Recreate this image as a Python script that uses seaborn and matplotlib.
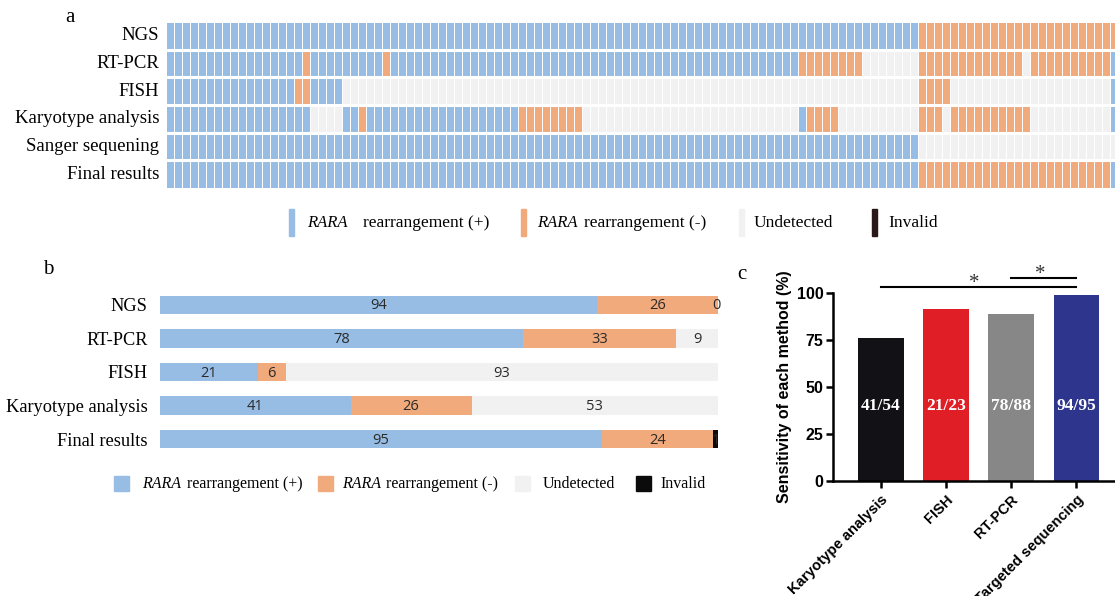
import numpy as np
import pandas as pd
import matplotlib
matplotlib.use("Agg")
import matplotlib.pyplot as plt
from matplotlib.colors import ListedColormap
from matplotlib.patches import Rectangle
import seaborn as sns

W, H = 1115, 596
SERIF = "Liberation Serif"
SANS = "Liberation Sans"

c_pos = "#97bde4"
c_neg = "#f0aa7b"
c_und = "#f1f1f1"
c_inv = "#2a1818"

# ---- panel a: calls per sample, run-length coded (code, count)
# 0 undetected, 1 positive, 2 negative, 3 invalid
a_rows = ["NGS", "RT-PCR", "FISH", "Karyotype analysis", "Sanger sequening", "Final results"]
ngs_runs = [(1, 94), (2, 26)]
rtpcr_runs = [(1, 17), (2, 1), (1, 9), (2, 1), (1, 51), (2, 8), (0, 7), (2, 13),
              (0, 1), (2, 10), (1, 1), (0, 1)]
fish_runs = [(1, 16), (2, 2), (1, 4), (0, 72), (2, 4), (0, 20), (1, 1), (0, 1)]
karyo_runs = [(1, 18), (0, 4), (1, 2), (2, 1), (1, 19), (2, 8), (0, 27), (1, 1),
              (2, 4), (0, 10), (2, 3), (0, 1), (2, 10), (0, 10), (1, 1), (0, 1)]
sanger_runs = [(1, 94), (0, 26)]
final_runs = [(1, 94), (2, 24), (1, 1), (3, 1)]

# ---- panel b
b_methods = ["NGS", "RT-PCR", "FISH", "Karyotype analysis", "Final results"]
b_pos = [94, 78, 21, 41, 95]
b_neg = [26, 33, 6, 26, 24]
b_und = [0, 9, 93, 53, 0]
b_inv = [0, 0, 0, 0, 1]

# ---- panel c
c_methods = ["Karyotype analysis", "FISH", "RT-PCR", "Targeted sequencing"]
c_sens = [75.9, 91.3, 88.6, 98.9]
c_frac = ["41/54", "21/23", "78/88", "94/95"]
c_colors = ["#111116", "#e01e25", "#878787", "#2d368c"]


def expand(runs):
    return np.concatenate([np.full(n, code) for code, n in runs])


fig = plt.figure(figsize=(W / 100, H / 100), dpi=100)


def box(l, t, r, b):
    return [l / W, 1 - b / H, (r - l) / W, (b - t) / H]


def ftext(x, y, s, **kw):
    fig.text(x / W, 1 - y / H, s, **kw)


# ================= a
mat = pd.DataFrame([expand(r) for r in [ngs_runs, rtpcr_runs, fish_runs,
                                        karyo_runs, sanger_runs, final_runs]],
                   index=a_rows)
axA = fig.add_axes(box(166, 22, 1126, 188))
sns.heatmap(mat, ax=axA, cmap=ListedColormap([c_und, c_pos, c_neg, c_inv]),
            vmin=-0.5, vmax=3.5, cbar=False, linewidths=0.7, linecolor="white",
            xticklabels=False, yticklabels=a_rows)
for i in range(1, 6):
    axA.axhline(i, color="white", lw=2.2)
axA.tick_params(axis="y", length=0, pad=5)
for t in axA.get_yticklabels():
    t.set_rotation(0)
    t.set_fontfamily(SERIF)
    t.set_fontsize(13.5)
axA.set_xlabel("")
axA.set_ylabel("")
ftext(70, 18, "a", family=SERIF, fontsize=15, ha="center", va="center")

# legend a
ly = 223
for x0, col in [(289, c_pos), (521, c_neg), (739, c_und), (872, c_inv)]:
    fig.patches.append(Rectangle((x0 / W, 1 - 236 / H), 5 / W, 27 / H,
                                 transform=fig.transFigure, color=col))
ftext(307, ly, "RARA", family=SERIF, style="italic", fontsize=12, va="center")
ftext(363, ly, "rearrangement (+)", family=SERIF, fontsize=12.5, va="center")
ftext(537, ly, "RARA", family=SERIF, style="italic", fontsize=12, va="center")
ftext(584, ly, "rearrangement (-)", family=SERIF, fontsize=12.5, va="center")
ftext(754, ly, "Undetected", family=SERIF, fontsize=12.5, va="center")
ftext(888, ly, "Invalid", family=SERIF, fontsize=12.5, va="center")

# ================= b
axB = fig.add_axes(box(160, 288, 718, 456))
pos = np.array(b_pos)
neg = np.array(b_neg)
und = np.array(b_und)
inv = np.array(b_inv)
layers = [(pos + neg + und + inv, "#0b0b0b"), (pos + neg + und, c_und),
          (pos + neg, c_neg), (pos, c_pos)]
for vals, col in layers:
    sns.barplot(x=vals, y=b_methods, orient="h", color=col, saturation=1,
                width=0.55, ax=axB)
axB.set_xlim(0, 120)
axB.set_ylim(4.5, -0.5)
for i in range(len(b_methods)):
    segs = [(0, b_pos[i]), (b_pos[i], b_neg[i])]
    if b_inv[i] > 0:
        segs.append((b_pos[i] + b_neg[i] + b_und[i], b_inv[i]))
    else:
        segs.append((b_pos[i] + b_neg[i], b_und[i]))
    for start, w in segs:
        xc = start + w / 2 if w > 0 else start - 0.3
        axB.text(xc, i + 0.03, str(w), ha="center", va="center", fontsize=10.5,
                 family="Open Sans", color="#2a2a2a")
for s in axB.spines.values():
    s.set_visible(False)
axB.set_xticks([])
axB.set_xlabel("")
axB.set_ylabel("")
axB.tick_params(axis="y", length=0, pad=9)
for t in axB.get_yticklabels():
    t.set_fontfamily(SERIF)
    t.set_fontsize(13.2)
ftext(48, 270, "b", family=SERIF, fontsize=15, ha="center", va="center")

# legend b
ly = 484
for x0, col in [(114, c_pos), (318, c_neg), (515, c_und), (636, "#0b0b0b")]:
    fig.patches.append(Rectangle((x0 / W, 1 - 491 / H), 15 / W, 15 / H,
                                 transform=fig.transFigure, color=col))
ftext(142, ly, "RARA", family=SERIF, style="italic", fontsize=11.5, va="center")
ftext(187, ly, "rearrangement (+)", family=SERIF, fontsize=11.5, va="center")
ftext(342, ly, "RARA", family=SERIF, style="italic", fontsize=11.5, va="center")
ftext(386, ly, "rearrangement (-)", family=SERIF, fontsize=11.5, va="center")
ftext(543, ly, "Undetected", family=SERIF, fontsize=11.5, va="center")
ftext(660, ly, "Invalid", family=SERIF, fontsize=11.5, va="center")

# ================= c
axC = fig.add_axes(box(833, 292.7, 1115, 481))
sns.barplot(x=c_methods, y=c_sens, hue=c_methods, palette=c_colors,
            legend=False, saturation=1, width=0.7, ax=axC)
axC.set_xlim(-0.73, 3.59)
axC.set_ylim(0, 100)
axC.set_yticks([0, 25, 50, 75, 100])
for s in ["top", "right"]:
    axC.spines[s].set_visible(False)
for s in ["left", "bottom"]:
    axC.spines[s].set_linewidth(1.8)
axC.tick_params(direction="out", length=5, width=1.8)
axC.tick_params(axis="y", pad=2)
axC.set_xlabel("")
axC.set_ylabel("Sensitivity of each method (%)", family=SANS, fontweight="bold",
               fontsize=11.5, labelpad=3)
for t in axC.get_yticklabels():
    t.set_fontfamily(SANS)
    t.set_fontweight("bold")
    t.set_fontsize(11.5)
axC.set_xticks(range(4))
axC.set_xticklabels(c_methods, rotation=45, ha="right", rotation_mode="anchor",
                    family=SANS, fontweight="bold", fontsize=10.5)
for i, fr in enumerate(c_frac):
    axC.text(i, 40, fr, ha="center", va="center", color="white",
             family=SERIF, fontweight="bold", fontsize=12.5)
axC.plot([0, 3], [103.2, 103.2], color="black", lw=1.5, clip_on=False)
axC.plot([2, 3], [107.8, 107.8], color="black", lw=1.5, clip_on=False)
axC.text(1.44, 99.6, "*", ha="center", va="bottom", family=SERIF,
         fontsize=15, color="#333333", clip_on=False)
axC.text(2.44, 104.4, "*", ha="center", va="bottom", family=SERIF,
         fontsize=15, color="#333333", clip_on=False)
ftext(742, 274, "c", family=SERIF, fontsize=15, ha="center", va="center")

fig.savefig("out.png", dpi=100)
